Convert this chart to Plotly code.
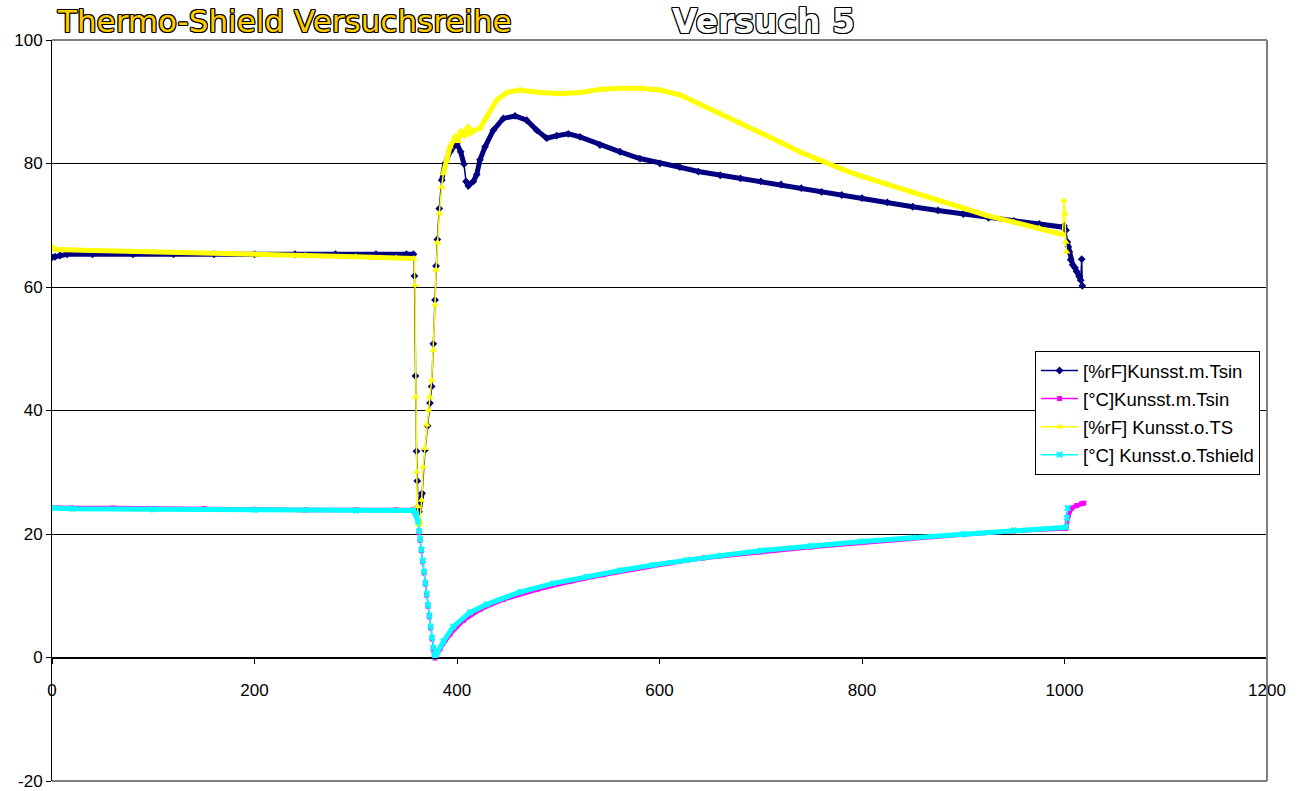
import plotly.graph_objects as go

# ---- data ----
navy_x = [0, 3, 8, 15, 40, 80, 120, 160, 200, 240, 280, 320, 350, 357,
          358, 359, 360, 360.8, 361.5, 362.5, 365.5, 368.4, 371, 373.3, 375, 376.6,
          378.3, 379.3, 380.6, 382.5, 384.9, 388.1, 393.1, 399.7, 403.6, 406.9,
          408.9, 411.2, 416.1, 419.5, 422.7, 427.7, 435.9, 445.8, 457.3, 468.8,
          478.7, 488.6, 498.5, 509.9, 521.5, 541.2, 561, 580.7, 600.5, 620.2,
          638.3, 660, 680, 700, 720, 740, 760, 780, 800, 825, 850, 875, 900, 925,
          950, 975, 998, 999.5, 1001.5, 1002.8,
          1003.8, 1004.7, 1006.1, 1008.1, 1010.4, 1012, 1014.6, 1016, 1017, 1017.6]
navy_y = [64.8, 64.9, 65.1, 65.3, 65.3, 65.3, 65.3, 65.3, 65.3, 65.3, 65.3, 65.3, 65.3, 65.3,
          61.8, 45.6, 33.4, 28.6, 24.4, 23.6, 26.6, 33.6, 37.5, 41.2, 43.9, 50.8,
          57.9, 63.4, 67.7, 72.7, 77.3, 80.0, 81.9, 83.3, 81.9, 79.9,
          77.1, 76.4, 77.1, 78.2, 80.6, 82.7, 85.4, 87.3, 87.7, 87.0,
          85.4, 84.1, 84.5, 84.8, 84.3, 83.0, 81.9, 80.8, 80.0, 79.4,
          78.7, 78.1, 77.6, 77.1, 76.6, 76.0, 75.4, 74.9, 74.4, 73.7, 73.0, 72.4, 71.8, 71.2,
          70.7, 70.2, 69.7, 69.9, 69.2, 67.3,
          66.5, 65.7, 64.4, 63.6, 63.1, 62.5, 61.7, 61.1, 64.5, 60.2]

mag_x = [0, 20, 60, 100, 150, 200, 250, 300, 340, 356.9, 358.5, 360, 361.8, 362.5,
         363.5, 364.8, 366.1, 367.4, 368.7, 370, 371.3, 372.6, 373.9, 375.2, 376.5,
         377.6, 378.3, 379.5, 383.2, 393.1, 406.2, 422.7, 445.7, 478.7, 511.6,
         544.5, 577.5, 610.4, 643.3, 700, 750, 800, 850, 900, 950, 1001.5, 1003.8,
         1007.1, 1012, 1017, 1019]
mag_y = [24.3, 24.2, 24.2, 24.1, 24.1, 24.0, 23.9, 23.9, 23.9, 23.9, 23.5, 23.0, 22.0, 20.2,
         19.0, 17.3, 15.5, 13.7, 11.9, 10.1, 8.3, 6.6, 4.8, 3.0, 1.4,
         0.3, -0.1, 0.3, 1.4, 3.8, 6.0, 7.8, 9.4, 11.0, 12.3,
         13.4, 14.4, 15.3, 16.1, 17.1, 17.9, 18.6, 19.3, 19.9, 20.5, 20.9, 23.1,
         24.2, 24.6, 24.9, 25.0]

yel_x = [0, 2, 20, 50, 100, 150, 200, 250, 300, 340, 357.5, 358.5, 359.2, 360.2,
         361, 362.2, 363.3, 365.1, 366.7, 368.4, 370.1, 371.7, 373.3, 375, 376.6,
         378.3, 379.3, 380.6, 382.5, 384.9, 386.5, 389.8, 393.1, 396, 399, 401,
         404, 407, 411, 412.8, 416, 422.7, 429.3, 439.2, 449.1, 462.2, 482, 501.7,
         521.5, 541.2, 561, 580.7, 600.5, 620.2, 640, 660, 680, 700, 720, 740,
         760, 780, 800, 825, 850, 875, 900, 925, 950, 975, 998, 999.5, 1000.5, 1001.2, 1002]
yel_y = [66.6, 66.1, 66.0, 65.9, 65.7, 65.5, 65.3, 65.1, 64.9, 64.7, 64.6, 60.3, 42.2, 30.1,
         24.5, 21.5, 22.0, 25.5, 30.9, 33.9, 37.7, 40.1, 42.2, 44.9, 49.8,
         57.1, 62.8, 67.2, 71.9, 76.2, 78.4, 80.6, 82.7, 83.6, 84.5, 83.6,
         85.3, 84.6, 86.0, 84.9, 85.3, 85.7, 87.6, 90.3, 91.5, 91.9, 91.5, 91.3,
         91.5, 92.0, 92.2, 92.2, 91.9, 91.1, 89.6, 88.1, 86.6, 85.0, 83.4, 81.8,
         80.4, 79.1, 77.9, 76.6, 75.3, 74.0, 72.7, 71.5, 70.5, 69.5, 68.5, 74.0, 71.9, 67.3, 65.7]

cyan_x = [0, 20, 100, 200, 300, 357, 359.5, 361.5, 362.5, 363.6, 364.9, 366.2,
          367.5, 368.8, 370.1, 371.4, 372.7, 374, 375.3, 376.6, 377.7, 378.6,
          380.5, 386.5, 396.4, 412.8, 429.3, 462.2, 495.1, 528.1, 561, 593.9,
          626.9, 659.8, 700, 750, 800, 850, 900, 950, 1001.5, 1002.3, 1003]
cyan_y = [24.2, 24.1, 24.0, 23.9, 23.8, 23.8, 23.2, 22.0, 20.5, 19.2, 17.5, 15.7,
          13.9, 12.1, 10.3, 8.5, 6.8, 5.0, 3.2, 1.6, 0.5, 0.1,
          0.8, 2.6, 5.0, 7.3, 8.6, 10.6, 12.0, 13.1, 14.1, 15.0,
          15.8, 16.5, 17.3, 18.1, 18.8, 19.4, 20.0, 20.6, 21.1, 22.6, 24.2]

names = ["[%rF]Kunsst.m.Tsin", "[°C]Kunsst.m.Tsin", "[%rF] Kunsst.o.TS", "[°C] Kunsst.o.Tshield"]
title_left = "Thermo-Shield Versuchsreihe"
title_right = "Versuch 5"
x_ticks = [0, 200, 400, 600, 800, 1000, 1200]
y_ticks = [-20, 0, 20, 40, 60, 80, 100]

FONT = "Arial, Liberation Sans, sans-serif"


def dense_band(xs, ys, max_slope=1.0):
    """Keep only the gently sloped stretches (where the original markers merge into a band)."""
    bx, by = [xs[0]], [ys[0]]
    for i in range(1, len(xs)):
        dx = xs[i] - xs[i - 1]
        slope = abs(ys[i] - ys[i - 1]) / dx if dx else 99
        if slope > max_slope:
            bx.append(None)
            by.append(None)
        bx.append(xs[i])
        by.append(ys[i])
    return bx, by


fig = go.Figure()
series = [
    (navy_x, navy_y, names[0], "#000080", "diamond", 6, 5),
    (mag_x, mag_y, names[1], "#FF00FF", "square", 5, 4.5),
    (yel_x, yel_y, names[2], "#FFFF00", "triangle-up", 7, 5),
    (cyan_x, cyan_y, names[3], "#00FFFF", "x", 6, 5),
]
for i, (xs, ys, nm, col, sym, ms, lw) in enumerate(series):
    bx, by = dense_band(xs, ys)
    fig.add_trace(go.Scatter(
        x=bx, y=by, mode="lines", showlegend=False, legendgroup=f"g{i}",
        line=dict(color=col, width=lw), hoverinfo="skip", connectgaps=False,
    ))
    fig.add_trace(go.Scatter(
        x=xs, y=ys, name=nm, mode="lines+markers", legendgroup=f"g{i}",
        line=dict(color=col, width=1.5),
        marker=dict(color=col, symbol=sym, size=ms, line=dict(width=0)),
    ))

outline = ("-1px -1px 0 #000, 1px -1px 0 #000, -1px 1px 0 #000, 1px 1px 0 #000, "
           "0 -1px 0 #000, 0 1px 0 #000, -1px 0 0 #000, 1px 0 0 #000")

# plot area spans px 52..1267 x 40..781 of the 1298x791 window (page margin removed below)
fig.update_layout(
    width=1298, height=791,
    margin=dict(l=52, r=31, t=40, b=10, autoexpand=False),
    paper_bgcolor="white", plot_bgcolor="white",
    font=dict(family=FONT, size=17, color="black"),
    showlegend=True,
    legend=dict(
        x=(1035 - 52) / 1215, y=(781 - 351) / 741, xanchor="left", yanchor="top",
        bgcolor="white", bordercolor="black", borderwidth=1,
        font=dict(family=FONT, size=18.5, color="black"),
        tracegroupgap=1, itemwidth=37,
    ),
    xaxis=dict(
        range=[0, 1200], tickvals=x_ticks, ticktext=[str(v) for v in x_ticks],
        showgrid=False, zeroline=False, automargin=False,
        showline=True, linecolor="black", linewidth=1,
        ticks="outside", ticklen=5, tickcolor="black",
        anchor="free", position=(0 - (-20)) / 120,
        ticklabelstandoff=12,
        tickfont=dict(family=FONT, size=17, color="black"),
    ),
    yaxis=dict(
        range=[-20, 100], tickvals=y_ticks, ticktext=[str(v) for v in y_ticks],
        showgrid=True, gridcolor="black", gridwidth=1, zeroline=False, automargin=False,
        showline=True, linecolor="black", linewidth=1,
        ticks="outside", ticklen=5, tickcolor="black",
        tickfont=dict(family=FONT, size=17, color="black"),
    ),
    shapes=[
        dict(type="line", xref="paper", yref="paper", x0=0, x1=1, y0=1, y1=1,
             line=dict(color="#808080", width=2), layer="above"),
        dict(type="line", xref="paper", yref="paper", x0=0, x1=1, y0=0, y1=0,
             line=dict(color="#808080", width=2), layer="above"),
        dict(type="line", xref="paper", yref="paper", x0=1, x1=1, y0=0, y1=1,
             line=dict(color="#808080", width=2), layer="above"),
    ],
    annotations=[
        dict(text=title_left, xref="paper", yref="paper", x=(55 - 52) / 1215, y=(781 - 21) / 741,
             xanchor="left", yanchor="middle", showarrow=False,
             font=dict(family="DejaVu Sans", size=31, color="#FFCC00", shadow=outline)),
        dict(text=title_right, xref="paper", yref="paper", x=(763 - 52) / 1215, y=(781 - 21) / 741,
             xanchor="center", yanchor="middle", showarrow=False,
             font=dict(family="DejaVu Sans", size=33, color="white", weight="bold", shadow=outline)),
    ],
)

fig.write_html(
    "out.html",
    config={"displayModeBar": False},
    post_script="document.body.style.margin='0';document.body.style.overflow='hidden';",
)
